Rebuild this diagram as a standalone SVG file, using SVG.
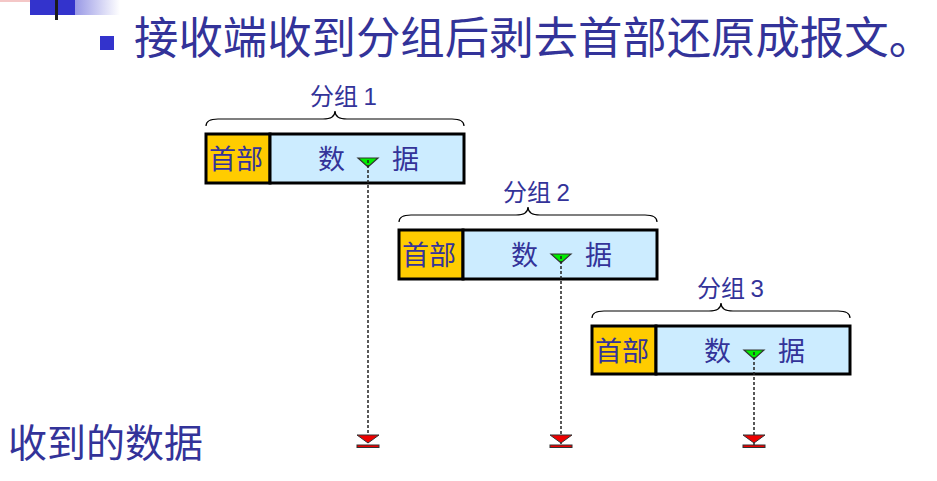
<svg xmlns="http://www.w3.org/2000/svg" width="937" height="481" viewBox="0 0 937 481">
<defs>
<linearGradient id="fade" x1="0" y1="0" x2="1" y2="0">
<stop offset="0" stop-color="#3333CC"/>
<stop offset="1" stop-color="#3333CC" stop-opacity="0"/>
</linearGradient>
</defs>
<style>
text{font-family:"Noto Sans CJK SC","Liberation Sans",sans-serif;fill:#333399}
.title{font-size:44.4px}
.lbl{font-size:24px}
.num{font-family:"Liberation Sans",Arial,sans-serif;font-size:24px}
.hd{font-size:27px}
.box{stroke:#000;stroke-width:3}
.brace{fill:none;stroke:#000;stroke-width:1.2}
.dash{stroke:#222;stroke-width:1.5;stroke-dasharray:3,2;fill:none}
.green{fill:#00EE00;stroke:#333;stroke-width:1.2}
.red{fill:#EE0000;stroke:#333;stroke-width:1}
</style>
<rect x="0" y="0" width="45" height="2" fill="#F4C7C7"/>
<rect x="30" y="0" width="90" height="15" fill="url(#fade)"/>
<rect x="30" y="0" width="45" height="15" fill="#3333CC"/>
<rect x="55" y="0" width="3" height="20" fill="#1a1a1a"/>
<rect x="100" y="36" width="14" height="14" fill="#3333CC"/>
<text class="title" x="134" y="54">接收端收到分组后剥去首部还原成报文。</text>
<text x="8" y="457" style="font-size:39px">收到的数据</text>

<g id="packet1">
<path class="brace" d="M206,126 Q206,119 218,119 L323,119 Q335,119 335,111 Q335,119 347,119 L452,119 Q464,119 464,126"/>
<text class="lbl" x="310" y="105">分组 <tspan class="num">1</tspan></text>
<rect class="box" x="206" y="134" width="64" height="49" fill="#FFCC00"/>
<rect class="box" x="270" y="134" width="194" height="49" fill="#CCECFF"/>
<text class="hd" x="209" y="169">首部</text>
<text class="hd" x="318" y="169">数</text>
<text class="hd" x="392" y="169">据</text>
</g>
<g id="packet2">
<path class="brace" d="M399,222 Q399,215 411,215 L516,215 Q528,215 528,207 Q528,215 540,215 L645,215 Q657,215 657,222"/>
<text class="lbl" x="503" y="201">分组 <tspan class="num">2</tspan></text>
<rect class="box" x="399" y="230" width="64" height="49" fill="#FFCC00"/>
<rect class="box" x="463" y="230" width="194" height="49" fill="#CCECFF"/>
<text class="hd" x="402" y="265">首部</text>
<text class="hd" x="511" y="265">数</text>
<text class="hd" x="585" y="265">据</text>
</g>
<g id="packet3">
<path class="brace" d="M592,318 Q592,311 604,311 L709,311 Q721,311 721,303 Q721,311 733,311 L838,311 Q850,311 850,318"/>
<text class="lbl" x="697" y="297">分组 <tspan class="num">3</tspan></text>
<rect class="box" x="592" y="326" width="64" height="48" fill="#FFCC00"/>
<rect class="box" x="656" y="326" width="194" height="48" fill="#CCECFF"/>
<text class="hd" x="595" y="361">首部</text>
<text class="hd" x="704" y="361">数</text>
<text class="hd" x="778" y="361">据</text>
</g>

<g id="connectors">
<line class="dash" x1="368" y1="160" x2="368" y2="446"/>
<line class="dash" x1="561" y1="256" x2="561" y2="446"/>
<line class="dash" x1="754" y1="352" x2="754" y2="446"/>
<path class="green" d="M358,158 L378,158 L368,167 Z"/>
<path class="green" d="M551,254 L571,254 L561,263 Z"/>
<path class="green" d="M744,350 L764,350 L754,359 Z"/>
<line class="dash" x1="368" y1="160" x2="368" y2="167"/>
<line class="dash" x1="561" y1="256" x2="561" y2="263"/>
<line class="dash" x1="754" y1="352" x2="754" y2="359"/>
<path class="red" d="M357,435 L379,435 L368,443 Z"/>
<rect class="red" x="357" y="445" width="22" height="2.5"/>
<path class="red" d="M550,435 L572,435 L561,443 Z"/>
<rect class="red" x="550" y="445" width="22" height="2.5"/>
<path class="red" d="M743,435 L765,435 L754,443 Z"/>
<rect class="red" x="743" y="445" width="22" height="2.5"/>
</g>
</svg>
